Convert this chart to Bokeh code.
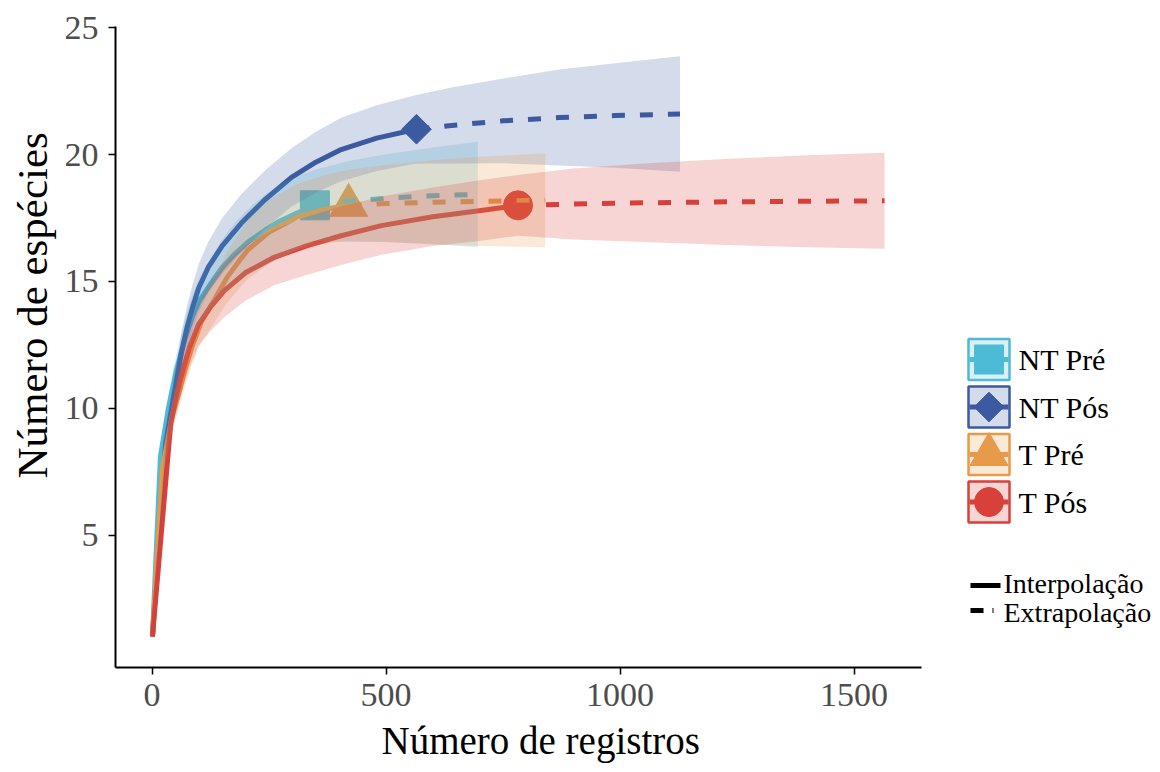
import math
from bokeh.plotting import figure
from bokeh.models import Range1d, FixedTicker, Title
from bokeh.layouts import row
from bokeh.embed import file_html
from bokeh.resources import INLINE
from bokeh.core.properties import value

# ---------------- data ----------------
SERIES = ["NT Pré", "NT Pós", "T Pré", "T Pós"]
COLORS = ["#4DBBD5", "#3C5AA0", "#E69A4A", "#D8413A"]
MARKERS = ["square", "square", "triangle", "circle"]
MARKER_ANGLES = [0, math.pi / 4, 0, 0]
N_OBS = [348, 565, 420, 782]

NT_PRE_X = [1, 18, 35, 52, 70, 87, 100, 127, 150, 175, 205, 240, 270, 310, 348, 420, 500, 600, 696]
NT_PRE_Y = [1, 8.1, 10.0, 11.5, 12.7, 13.65, 14.2, 14.95, 15.55, 16.05, 16.55, 17.0, 17.35, 17.7, 18.0, 18.15, 18.28, 18.38, 18.43]
NT_PRE_LO = [1, 7.7, 9.45, 10.85, 11.95, 12.8, 13.3, 13.95, 14.45, 14.85, 15.25, 15.6, 15.9, 16.25, 16.6, 16.55, 16.55, 16.48, 16.35]
NT_PRE_HI = [1, 8.5, 10.55, 12.15, 13.45, 14.5, 15.1, 15.95, 16.65, 17.25, 17.85, 18.4, 18.8, 19.15, 19.4, 19.75, 20.01, 20.28, 20.51]

NT_POS_X = [1, 29, 45, 63, 75, 87, 100, 120, 150, 191, 240, 298, 350, 404, 480, 565, 640, 750, 870, 990, 1128]
NT_POS_Y = [1, 8.6, 10.3, 12.2, 13.2, 14.0, 14.75, 15.55, 16.4, 17.3, 18.2, 19.1, 19.7, 20.2, 20.65, 21.0, 21.15, 21.33, 21.46, 21.54, 21.6]
NT_POS_LO = [1, 8.0, 9.6, 11.4, 12.35, 13.1, 13.8, 14.55, 15.3, 16.15, 17.05, 17.95, 18.5, 18.95, 19.35, 19.65, 19.65, 19.66, 19.57, 19.48, 19.32]
NT_POS_HI = [1, 9.2, 11.0, 13.0, 14.05, 14.9, 15.7, 16.55, 17.5, 18.45, 19.35, 20.25, 20.9, 21.45, 21.95, 22.35, 22.65, 23.0, 23.35, 23.6, 23.88]

T_PRE_X = [1, 22, 43, 56, 70, 85, 105, 134, 160, 190, 205, 250, 312, 370, 420, 500, 600, 700, 840]
T_PRE_Y = [1, 7.6, 9.7, 10.5, 11.5, 12.4, 13.4, 14.3, 15.15, 15.9, 16.25, 16.95, 17.55, 17.85, 18.0, 18.07, 18.12, 18.16, 18.2]
T_PRE_LO = [1, 7.2, 9.15, 9.9, 10.85, 11.7, 12.6, 13.4, 14.15, 14.8, 15.1, 15.7, 16.25, 16.5, 16.6, 16.55, 16.46, 16.4, 16.35]
T_PRE_HI = [1, 8.0, 10.25, 11.1, 12.15, 13.1, 14.2, 15.2, 16.15, 17.0, 17.4, 18.2, 18.85, 19.2, 19.4, 19.59, 19.78, 19.92, 20.05]

T_POS_X = [1, 40, 50, 60, 80, 99, 125, 155, 200, 261, 330, 404, 490, 600, 703, 782, 900, 1050, 1243, 1400, 1565]
T_POS_Y = [1, 9.4, 10.3, 11.1, 12.4, 13.3, 14.0, 14.65, 15.35, 15.95, 16.4, 16.8, 17.2, 17.55, 17.8, 18.0, 18.05, 18.1, 18.14, 18.16, 18.18]
T_POS_LO = [1, 8.8, 9.65, 10.4, 11.6, 12.45, 13.05, 13.6, 14.25, 14.85, 15.25, 15.65, 16.05, 16.4, 16.6, 16.8, 16.65, 16.55, 16.43, 16.35, 16.29]
T_POS_HI = [1, 10.0, 10.95, 11.8, 13.2, 14.15, 14.95, 15.7, 16.45, 17.05, 17.55, 17.95, 18.35, 18.7, 19.0, 19.2, 19.45, 19.65, 19.85, 19.97, 20.07]

X_TICKS = [0, 500, 1000, 1500]
Y_TICKS = [5, 10, 15, 20, 25]
X_LABEL = "Número de registros"
Y_LABEL = "Número de espécies"
METHOD_LABELS = ["Interpolação", "Extrapolação"]

DATA = [
    (NT_PRE_X, NT_PRE_Y, NT_PRE_LO, NT_PRE_HI),
    (NT_POS_X, NT_POS_Y, NT_POS_LO, NT_POS_HI),
    (T_PRE_X, T_PRE_Y, T_PRE_LO, T_PRE_HI),
    (T_POS_X, T_POS_Y, T_POS_LO, T_POS_HI),
]

FONT = "Liberation Serif"
MARKER_SIZES = [29, 21, 38, 29]

# ---------------- main plot ----------------
p = figure(width=940, height=772, x_range=Range1d(-78, 1644), y_range=Range1d(-0.22, 25.05),
           output_backend="svg", toolbar_location=None,
           min_border_left=115, min_border_right=19, min_border_top=26, min_border_bottom=105)
p.xgrid.visible = False
p.ygrid.visible = False
p.outline_line_color = None
p.background_fill_color = "white"

# points first
for i, (xs, ys, lo, hi) in enumerate(DATA):
    k = xs.index(N_OBS[i])
    p.scatter(x=[xs[k]], y=[ys[k]], marker=MARKERS[i], size=MARKER_SIZES[i], angle=MARKER_ANGLES[i],
              fill_color=COLORS[i], line_color=COLORS[i])

# lines
for i, (xs, ys, lo, hi) in enumerate(DATA):
    k = xs.index(N_OBS[i])
    p.line(xs[:k + 1], ys[:k + 1], line_color=COLORS[i], line_width=5, line_join="round")
    p.line(xs[k:], ys[k:], line_color=COLORS[i], line_width=5, line_dash="13 15")

# ribbons
for i, (xs, ys, lo, hi) in enumerate(DATA):
    p.varea(x=xs, y1=lo, y2=hi, fill_color=COLORS[i], fill_alpha=0.22)

for ax in (p.xaxis[0], p.yaxis[0]):
    ax.axis_line_color = "black"
    ax.axis_line_width = 2
    ax.major_tick_line_color = "black"
    ax.major_tick_line_width = 1.5
    ax.major_tick_out = 7
    ax.major_tick_in = 0
    ax.minor_tick_line_color = None
    ax.major_label_text_font = FONT
    ax.major_label_text_font_size = "34px"
    ax.major_label_text_color = "#4D4D4D"

p.xaxis.ticker = FixedTicker(ticks=X_TICKS)
p.yaxis.ticker = FixedTicker(ticks=Y_TICKS)
p.xaxis.major_label_standoff = 9
p.yaxis.major_label_standoff = 10

p.add_layout(Title(text=X_LABEL, align="left", offset=266, text_font=FONT,
                   text_font_size="39px", text_font_style="normal", text_color="black",
                   standoff=17), "below")
p.add_layout(Title(text=Y_LABEL, align="left", offset=189, text_font=FONT,
                   text_font_size="43px", text_font_style="normal", text_color="black",
                   standoff=12), "left")

# ---------------- legend panel ----------------
# the row aligns this panel's frame with the plot frame (page rows 26..667),
# so this range maps legend coordinates to page pixels
leg = figure(width=220, height=772, x_range=Range1d(940, 1160), y_range=Range1d(667, 26),
             output_backend="svg", toolbar_location=None,
             x_axis_location=None, y_axis_location=None,
             min_border=0, min_border_left=0, min_border_right=0, min_border_top=26, min_border_bottom=105)
leg.xgrid.visible = False
leg.ygrid.visible = False
leg.outline_line_color = None

KEY_Y = [359, 406.5, 454, 501.5]
KEY_X0, KEY_X1 = 968, 1009
KEY_H = 41
kx = (KEY_X0 + KEY_X1) / 2
leg.quad(left=[KEY_X0] * 4, right=[KEY_X1] * 4,
         top=[y - KEY_H / 2 for y in KEY_Y], bottom=[y + KEY_H / 2 for y in KEY_Y],
         fill_color=COLORS, fill_alpha=0.22, line_color=COLORS, line_width=2.5)
leg.segment(x0=[KEY_X0 + 1] * 4, x1=[KEY_X1 - 1] * 4, y0=KEY_Y, y1=KEY_Y,
            line_color=COLORS, line_width=5)
for i in range(4):
    leg.scatter(x=[kx], y=[KEY_Y[i]], marker=MARKERS[i], size=MARKER_SIZES[i], angle=MARKER_ANGLES[i],
                fill_color=COLORS[i], line_color=COLORS[i])
leg.text(x=[1018] * 4, y=KEY_Y, text=SERIES, text_font=value(FONT), text_font_size="30px",
         text_baseline="middle", text_color="black")

LINE_Y = [585, 610]
leg.segment(x0=[970], x1=[1000], y0=[LINE_Y[0]], y1=[LINE_Y[0]], line_color="black", line_width=5)
leg.line(x=[970, 993], y=[LINE_Y[1], LINE_Y[1]], line_color="black", line_width=5, line_dash="13 9")
leg.text(x=[1003, 1003], y=[LINE_Y[0] - 2, LINE_Y[1] + 2], text=METHOD_LABELS, text_font=value(FONT),
         text_font_size="28px", text_baseline="middle", text_color="black")

layout = row(p, leg)
open("out.html", "w").write(file_html(layout, INLINE))
